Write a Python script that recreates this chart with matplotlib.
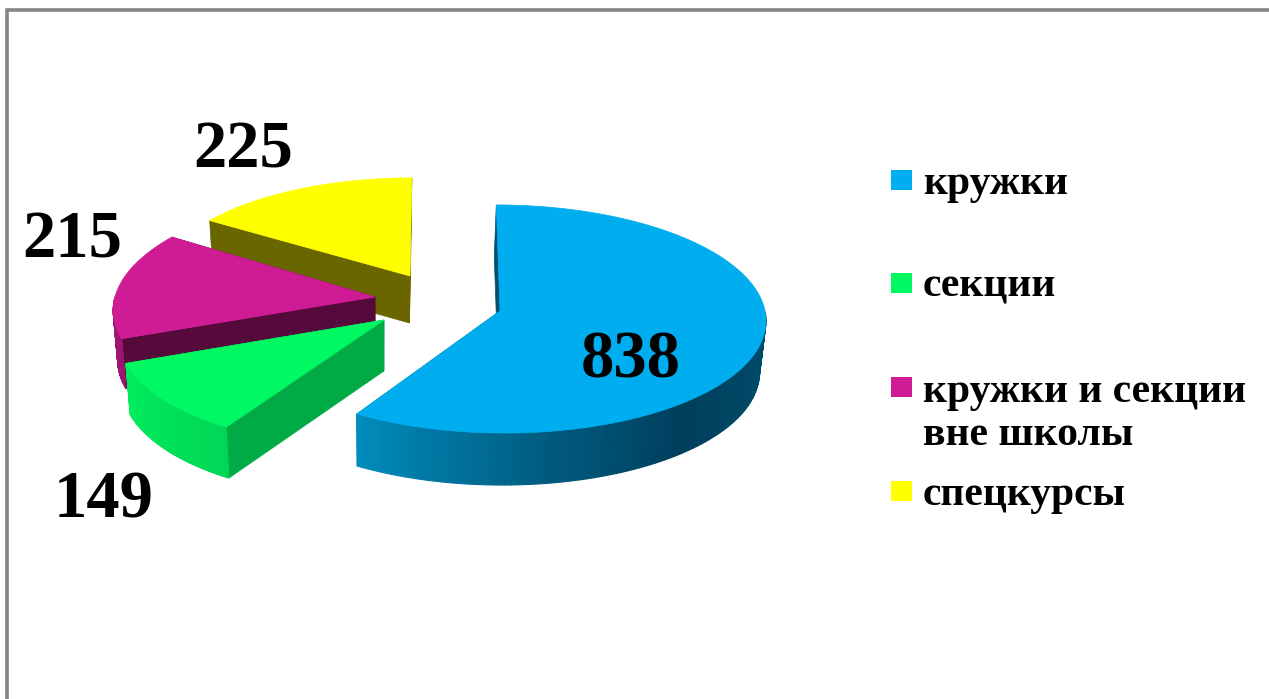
import numpy as np
import matplotlib.pyplot as plt
from matplotlib.patches import Rectangle

plt.rcParams['font.family'] = ['Liberation Serif', 'DejaVu Serif']

labels = ["кружки", "секции", "кружки и секции\nвне школы", "спецкурсы"]
values = [838, 149, 215, 225]

top_colors = ["#00AEEF", "#00F962", "#D01C94", "#FFFF00"]
face_colors = ["#00506F", "#00AB46", "#560A3C", "#696600"]

# rim shading: (clockwise angle from 12 o'clock, colour)
rim_shades = [
    [(90, "#00506E"), (140, "#003F5C"), (170, "#005A7E"), (211, "#008DBD")],
    [(211, "#00D656"), (250, "#00EE5E")],
    [(249, "#9C1470"), (303, "#A8167A")],
    [(303, "#8A8800"), (360, "#8A8800")],
]

# where each exploded slice sits on screen: apex x, y, half width, half depth, skew, thickness
slice_geom = [
    (500, 311, 265, 113.5, -4, 52),
    (384, 320, 265, 118, 12, 51),
    (375, 297, 260, 113.5, 12, 50),
    (410, 276, 250, 105, 2, 47),
]
persp = 0.07
# lower edge of the pie pulls in a bit towards this x
vanish_x = 380
wall_scale = 0.983

label_pos = [(631, 378), (104, 518), (72, 258), (243, 168)]
legend_text_y = [194, 297, 445, 505]
legend_box_y = [170, 273, 377, 481]


def to_hex_rgb(c):
    return np.array([int(c[i:i + 2], 16) / 255 for i in (1, 3, 5)])


def shade(stops, ang):
    a = [s[0] for s in stops]
    rgb = np.array([to_hex_rgb(s[1]) for s in stops])
    return [np.interp(ang, a, rgb[:, i]) for i in range(3)]


def rim(geom, ang):
    # flat pie seen in perspective, nearer part is a little bigger
    cx, cy, a, b, s, d = geom
    x = np.sin(np.radians(ang))
    y = np.cos(np.radians(ang))
    den = 1 + persp * y
    return cx + (a * x + s * y) / den, cy - b * y / den


def low(x):
    return vanish_x + (x - vanish_x) * wall_scale


fig = plt.figure(figsize=(12.69, 6.99), dpi=100)
ax = fig.add_axes([0, 0, 1, 1])
ax.set_xlim(0, 1269)
ax.set_ylim(699, 0)
ax.axis('off')

# frame, only top and left show
ax.plot([6.5, 6.5, 1269], [699, 9.5, 9.5], color="#858585", lw=2.6, solid_joinstyle='miter')

edges = np.cumsum([0] + values) / sum(values) * 360

# back slices first
for i in [3, 2, 1, 0]:
    g = slice_geom[i]
    cx, cy, d = g[0], g[1], g[5]
    ang = np.linspace(edges[i], edges[i + 1], 160)
    xr, yr = rim(g, ang)

    # cut faces
    for k in [0, -1]:
        ax.fill([cx, xr[k], low(xr[k]), low(cx)], [cy, yr[k], yr[k] + d, cy + d],
                color=face_colors[i], lw=0.5, zorder=i * -10 + 1)

    # outer wall in thin strips
    for j in range(len(ang) - 1):
        if not 90 <= ang[j] <= 270:
            continue
        c = shade(rim_shades[i], ang[j])
        ax.fill([xr[j], xr[j + 1], low(xr[j + 1]), low(xr[j])],
                [yr[j], yr[j + 1], yr[j + 1] + d, yr[j] + d],
                color=c, lw=0.8, zorder=i * -10 + 2)

    ax.fill(np.r_[cx, xr], np.r_[cy, yr], color=top_colors[i], lw=0.5, zorder=i * -10 + 3)

# dark sliver on the blue slice's straight edge
xr0, yr0 = rim(slice_geom[0], edges[0])
ax.plot([xr0 + 1, slice_geom[0][0]], [yr0 + 12, slice_geom[0][1]], color="#004F6E", lw=2,
        solid_capstyle='butt', zorder=1)

for v, p in zip(values, label_pos):
    ax.text(p[0], p[1], str(v), fontsize=48, fontweight='bold', ha='center', va='baseline', zorder=5)

for lab, c, ty, by in zip(labels, top_colors, legend_text_y, legend_box_y):
    ax.add_patch(Rectangle((891, by), 21, 20, color=c, lw=0, zorder=5))
    ax.text(923, ty, lab, fontsize=30, fontweight='bold', ha='left', va='baseline', linespacing=1.17, zorder=5)

fig.savefig('out.png', dpi=100)
